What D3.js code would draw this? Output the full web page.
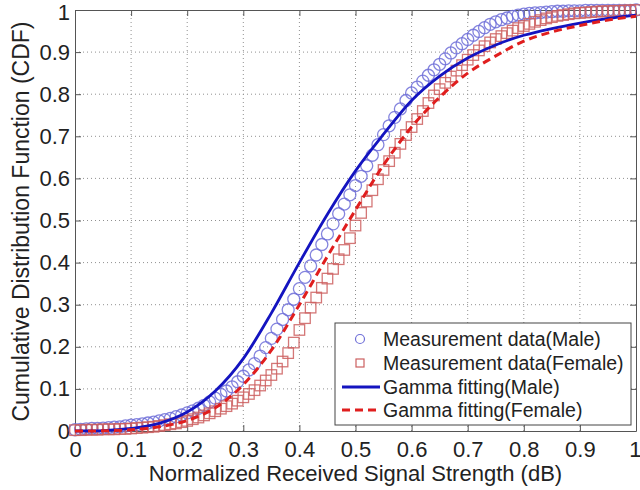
<!DOCTYPE html>
<html>
<head>
<meta charset="utf-8">
<script src="https://cdn.jsdelivr.net/npm/d3@7"></script>
<style>
  body { margin: 0; background: #fff; }
  svg text { font-family: "Liberation Sans", Arial, sans-serif; fill: #222; }
</style>
</head>
<body>
<div id="chart"></div>
<script>
// measured points, x = normalized signal strength
const xMeas = [0.00,0.01,0.02,0.03,0.04,0.05,0.06,0.07,0.08,0.09,
  0.10,0.11,0.12,0.13,0.14,0.15,0.16,0.17,0.18,0.19,
  0.20,0.21,0.22,0.23,0.24,0.25,0.26,0.27,0.28,0.29,
  0.30,0.31,0.32,0.33,0.34,0.35,0.36,0.37,0.38,0.39,
  0.40,0.41,0.42,0.43,0.44,0.45,0.46,0.47,0.48,0.49,
  0.50,0.51,0.52,0.53,0.54,0.55,0.56,0.57,0.58,0.59,
  0.60,0.61,0.62,0.63,0.64,0.65,0.66,0.67,0.68,0.69,
  0.70,0.71,0.72,0.73,0.74,0.75,0.76,0.77,0.78,0.79,
  0.80,0.81,0.82,0.83,0.84,0.85,0.86,0.87,0.88,0.89,
  0.90,0.91,0.92,0.93,0.94,0.95,0.96,0.97,0.98,0.99,1.00];

const measMale = [0.003,0.004,0.005,0.006,0.006,0.007,0.008,0.009,0.010,0.012,
  0.014,0.015,0.017,0.019,0.021,0.024,0.027,0.030,0.034,0.038,
  0.043,0.048,0.054,0.061,0.069,0.078,0.087,0.095,0.105,0.117,
  0.130,0.145,0.160,0.178,0.198,0.220,0.242,0.265,0.288,0.313,
  0.338,0.365,0.392,0.418,0.443,0.468,0.492,0.516,0.539,0.561,
  0.583,0.605,0.630,0.655,0.680,0.704,0.725,0.745,0.765,0.785,
  0.803,0.817,0.831,0.845,0.858,0.871,0.884,0.898,0.910,0.920,
  0.930,0.940,0.949,0.958,0.966,0.972,0.977,0.981,0.985,0.988,
  0.990,0.992,0.993,0.994,0.995,0.996,0.997,0.997,0.998,0.998,
  0.998,0.999,0.999,0.999,0.999,0.999,0.999,0.999,0.999,0.999,1.000];

const measFemale = [0.002,0.002,0.003,0.003,0.003,0.004,0.004,0.004,0.005,0.005,
  0.006,0.007,0.008,0.009,0.010,0.012,0.014,0.016,0.018,0.021,
  0.024,0.028,0.032,0.037,0.042,0.047,0.053,0.059,0.065,0.072,
  0.080,0.088,0.097,0.108,0.120,0.133,0.148,0.165,0.185,0.210,
  0.240,0.268,0.293,0.317,0.340,0.362,0.385,0.408,0.430,0.458,
  0.488,0.518,0.545,0.572,0.598,0.620,0.641,0.661,0.682,0.703,
  0.722,0.741,0.760,0.779,0.797,0.812,0.827,0.842,0.856,0.869,
  0.882,0.893,0.904,0.914,0.923,0.931,0.938,0.945,0.951,0.957,
  0.962,0.967,0.972,0.976,0.980,0.983,0.986,0.988,0.990,0.992,
  0.993,0.994,0.995,0.996,0.997,0.997,0.998,0.998,0.999,0.999,1.000];

// fitted curves
const xFit = [0.00,0.05,0.10,0.15,0.20,0.25,0.30,0.35,0.40,0.45,0.50,
  0.55,0.60,0.65,0.70,0.75,0.80,0.85,0.90,0.95,1.00];
const fitMale = [0.000,0.001,0.006,0.018,0.045,0.095,0.172,0.280,0.400,0.515,0.618,
  0.705,0.785,0.843,0.886,0.917,0.940,0.956,0.969,0.980,0.988];
const fitFemale = [0.000,0.0005,0.003,0.010,0.025,0.055,0.110,0.192,0.300,0.415,0.525,
  0.632,0.722,0.793,0.850,0.891,0.926,0.948,0.963,0.976,0.985];

const ticks = [0,0.1,0.2,0.3,0.4,0.5,0.6,0.7,0.8,0.9,1];
const legendLabels = ['Measurement data(Male)', 'Measurement data(Female)',
  'Gamma fitting(Male)', 'Gamma fitting(Female)'];

const W = 640, H = 490;
const mLeft = 75, mRight = 636, mTop = 10, mBottom = 431;

const svg = d3.select('#chart').append('svg')
  .attr('width', W).attr('height', H);

const x = d3.scaleLinear().domain([0, 1]).range([mLeft, mRight]);
const y = d3.scaleLinear().domain([0, 1]).range([mBottom, mTop]);

const fmt = d => d === 0 ? '0' : d === 1 ? '1' : d3.format('.1f')(d);

// grid lines (dotted, MATLAB style)
const grid = svg.append('g').attr('stroke', '#909090').attr('stroke-width', 1)
  .attr('stroke-dasharray', '1,3');
grid.selectAll('.gx').data(ticks.slice(1, -1)).enter().append('line')
  .attr('x1', d => x(d)).attr('x2', d => x(d)).attr('y1', mTop).attr('y2', mBottom);
grid.selectAll('.gy').data(ticks.slice(1, -1)).enter().append('line')
  .attr('y1', d => y(d)).attr('y2', d => y(d)).attr('x1', mLeft).attr('x2', mRight);

// axes
const xAxis = svg.append('g').attr('transform', `translate(0,${mBottom})`)
  .call(d3.axisBottom(x).tickValues(ticks).tickSizeInner(-6).tickSizeOuter(0).tickPadding(11).tickFormat(fmt));
const yAxis = svg.append('g').attr('transform', `translate(${mLeft},0)`)
  .call(d3.axisLeft(y).tickValues(ticks).tickSizeInner(-6).tickSizeOuter(0).tickPadding(5).tickFormat(fmt));
svg.append('g').attr('transform', `translate(0,${mTop})`)
  .call(d3.axisTop(x).tickValues(ticks).tickSizeInner(-6).tickSizeOuter(0).tickFormat(''));
svg.append('g').attr('transform', `translate(${mRight},0)`)
  .call(d3.axisRight(y).tickValues(ticks).tickSizeInner(-6).tickSizeOuter(0).tickFormat(''));
svg.selectAll('.domain').attr('stroke', '#555');
svg.selectAll('.tick line').attr('stroke', '#555');
svg.selectAll('.tick text').style('font-size', '22px').attr('fill', '#222');
xAxis.selectAll('.tick text').attr('dy', '0.68em');
// keep the end labels inside the page
xAxis.selectAll('.tick text').filter(d => d === 1).attr('text-anchor', 'end').attr('dx', 5);
yAxis.selectAll('.tick text').filter(d => d === 1).attr('dy', '0.42em');

// measurement markers
const circ = svg.append('g');
circ.selectAll('circle').data(xMeas).enter().append('circle')
  .attr('cx', d => x(d)).attr('cy', (d, i) => y(measMale[i])).attr('r', 6)
  .attr('fill', 'none').attr('stroke', '#6f6fd8').attr('stroke-width', 1.3).attr('stroke-opacity', 0.85);

const sq = svg.append('g');
const s = 10.5;
sq.selectAll('rect').data(xMeas).enter().append('rect')
  .attr('x', d => x(d) - s / 2).attr('y', (d, i) => y(measFemale[i]) - s / 2)
  .attr('width', s).attr('height', s)
  .attr('fill', 'none').attr('stroke', '#cc5f5f').attr('stroke-width', 1.3).attr('stroke-opacity', 0.85);

// fitted curves
const line = d3.line().curve(d3.curveMonotoneX);
svg.append('path')
  .attr('d', line(xFit.map((d, i) => [x(d), y(fitMale[i])])))
  .attr('fill', 'none').attr('stroke', '#1414c0').attr('stroke-width', 2.8);
svg.append('path')
  .attr('d', line(xFit.map((d, i) => [x(d), y(fitFemale[i])])))
  .attr('fill', 'none').attr('stroke', '#e01e1e').attr('stroke-width', 3)
  .attr('stroke-dasharray', '8,5');

// axis titles
svg.append('text').attr('x', (mLeft + mRight) / 2).attr('y', 481)
  .attr('text-anchor', 'middle').style('font-size', '22px')
  .text('Normalized Received Signal Strength (dB)');
svg.append('text').attr('transform', `translate(29,${(mTop + mBottom) / 2 + 1}) rotate(-90)`)
  .attr('text-anchor', 'middle').style('font-size', '23px')
  .text('Cumulative Distribution Function (CDF)');

// legend
const lg = svg.append('g');
lg.append('rect').attr('x', 335).attr('y', 323).attr('width', 296).attr('height', 102)
  .attr('fill', '#fff').attr('stroke', '#444').attr('stroke-width', 1);
const rowY = [339, 363, 387, 410];
lg.append('circle').attr('cx', 360).attr('cy', rowY[0]).attr('r', 4.5)
  .attr('fill', 'none').attr('stroke', '#6f6fd8').attr('stroke-width', 1.2);
lg.append('rect').attr('x', 356).attr('y', rowY[1] - 4).attr('width', 8).attr('height', 8)
  .attr('fill', 'none').attr('stroke', '#cc5f5f').attr('stroke-width', 1.2);
lg.append('line').attr('x1', 342).attr('x2', 380).attr('y1', rowY[2]).attr('y2', rowY[2])
  .attr('stroke', '#1414c0').attr('stroke-width', 2.8);
lg.append('line').attr('x1', 342).attr('x2', 380).attr('y1', rowY[3]).attr('y2', rowY[3])
  .attr('stroke', '#e01e1e').attr('stroke-width', 3).attr('stroke-dasharray', '8,5');
lg.selectAll('text.lab').data(legendLabels).enter().append('text')
  .attr('x', 383).attr('y', (d, i) => rowY[i]).attr('dy', '0.35em')
  .style('font-size', '19.5px').text(d => d);
</script>
</body>
</html>
